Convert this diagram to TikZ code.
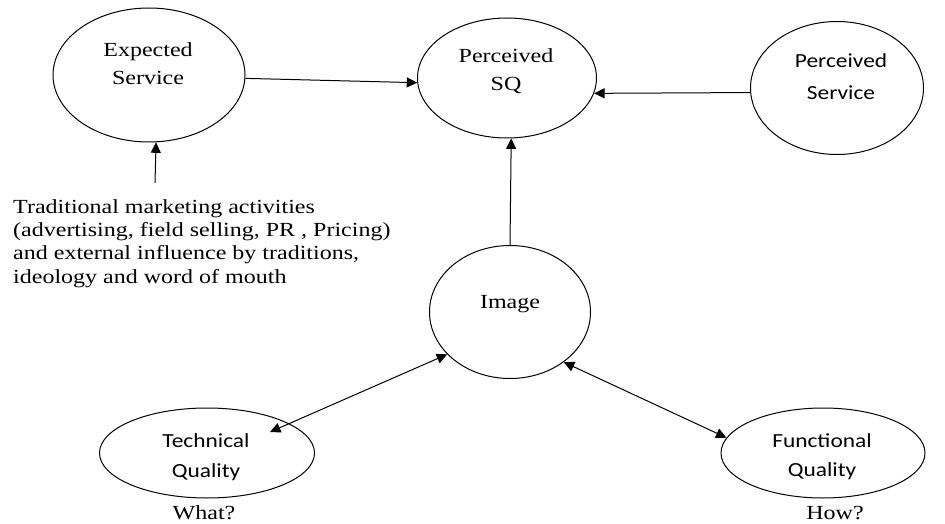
\documentclass[tikz,border=0pt]{standalone}
\usepackage{fontspec}
\setmainfont[FakeStretch=1.2]{Liberation Serif}
\newfontfamily\calfont[FakeStretch=1.17]{Carlito}
\usetikzlibrary{shapes.geometric,arrows.meta,calc}

\tikzset{
  bubble/.style={draw, ellipse, line width=1pt, inner sep=0pt},
  serif/.style={font=\fontsize{20}{23.3}\selectfont, inner sep=0pt, anchor=base},
  sans/.style={font=\calfont\fontsize{20}{23.3}\selectfont, inner sep=0pt, anchor=base},
  tip/.tip={Triangle[length=10.5pt,width=10pt]},
  link/.style={line width=1pt, -tip},
  twoway/.style={line width=1pt, tip-tip},
}

\begin{document}
\begin{tikzpicture}[x=1pt,y=-1pt]
  \path[use as bounding box] (0,0) rectangle (945,524);

  % outlines of the constructs
  \node[bubble, minimum width=192pt, minimum height=134pt] (exp) at (149,75) {};
  \node[bubble, minimum width=179pt, minimum height=120pt] (sq)  at (507,78) {};
  \node[bubble, minimum width=173pt, minimum height=133pt] (ps)  at (837,88) {};
  \node[bubble, minimum width=161pt, minimum height=133pt] (img) at (510,312) {};
  \node[bubble, minimum width=215pt, minimum height=90pt]  (tech) at (207,453) {};
  \node[bubble, minimum width=204pt, minimum height=90pt]  (func) at (823,453) {};

  % construct names
  \node[serif] (exp1) at (148,57) {Expected};
  \node[serif] (exp2) at (148,85) {Service};
  \node[serif] (sq1)  at (506,63) {Perceived};
  \node[serif] (sq2)  at (506,91) {SQ};
  \node[sans]  (ps1)  at (841,68) {Perceived};
  \node[sans]  (ps2)  at (841,100) {Service};
  \node[serif] (img1) at (510,308) {Image};
  \node[sans]  (tech1) at (206,447) {Technical};
  \node[sans]  (tech2) at (206,477) {Quality};
  \node[sans]  (func1) at (822,447) {Functional};
  \node[sans]  (func2) at (822,476) {Quality};
  \node[serif] (what) at (204,519) {What?};
  \node[serif] (how)  at (835,519) {How?};

  % influences on the expected service
  \node[font=\fontsize{20}{23.3}\selectfont, inner sep=0pt, anchor=north west, align=left] (trad) at (13,199.3)
    {Traditional marketing activities\\
     (advertising, field selling, PR , Pricing)\\
     and external influence by traditions,\\
     ideology and word of mouth};
  \coordinate (tradtop) at (155,183);

  % connectors
  \draw[link] (tradtop) -- (exp.-84);
  \draw[link] (exp.-2) -- (sq.-177);
  \draw[link] (ps.183) -- (sq.-10);
  \draw[link] (img.north) -- (sq.-86);
  \draw[twoway] ($(tech.center)+(63,-21)$) -- (img.214);
  \draw[twoway] (img.-43) -- (func.171);
\end{tikzpicture}
\end{document}
